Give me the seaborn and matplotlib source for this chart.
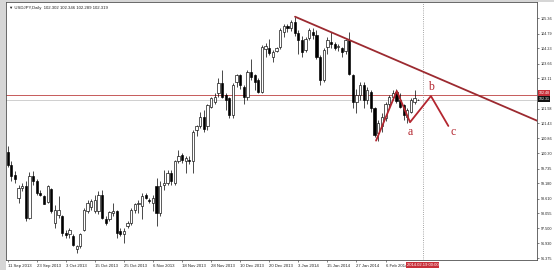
import numpy as np
import pandas as pd
import matplotlib
matplotlib.use("Agg")
import matplotlib.pyplot as plt
import matplotlib.transforms as mtransforms
from matplotlib.patches import Rectangle
import seaborn as sns

# ---------------- data ----------------
opens = [100.36, 99.88, 99.51, 98.64, 99.01, 99.09, 97.89, 99.44, 99.26, 98.82,
         98.72, 98.47, 98.97, 97.70, 98.01, 97.95, 97.33, 97.27, 97.20, 96.71,
         96.83, 97.45, 98.14, 98.30, 98.14, 98.14, 98.76, 97.85, 97.83, 98.08,
         98.14, 97.39, 97.27, 97.58, 97.70, 98.20, 98.39, 98.33, 98.76, 98.57,
         98.45, 99.07, 98.08, 99.13, 99.19, 99.57, 99.19, 100.01, 100.26, 100.01,
         100.07, 100.01, 101.18, 101.31, 101.68, 101.31, 102.05, 102.24, 102.55, 102.92,
         102.49, 102.36, 101.74, 102.98, 103.23, 102.80, 102.42, 103.35, 103.23, 103.04,
         102.61, 104.20, 104.23, 103.92, 104.14, 104.30, 104.85, 105.07, 104.98, 105.22,
         104.80, 104.54, 104.17, 104.62, 104.85, 104.72, 103.92, 103.04, 104.29, 104.48,
         104.39, 104.30, 104.23, 104.14, 104.54, 103.23, 102.24, 102.49, 102.86, 102.30,
         102.61, 101.99, 101.06, 101.31, 101.62, 102.17, 102.40, 102.60, 102.30, 102.11,
         101.68, 101.87, 102.24, 102.302]
highs = [100.59, 100.00, 99.63, 99.13, 99.19, 99.26, 99.59, 99.63, 99.34, 98.95,
         98.76, 99.13, 99.01, 98.38, 98.70, 98.00, 97.45, 97.51, 97.27, 96.89,
         97.33, 98.26, 98.57, 98.60, 98.76, 98.88, 98.95, 97.95, 98.14, 98.45,
         98.20, 97.51, 97.51, 97.77, 98.26, 98.45, 98.57, 98.82, 98.82, 98.64,
         98.76, 99.38, 99.26, 99.69, 99.69, 99.69, 100.07, 100.44, 100.32, 100.19,
         100.20, 101.18, 101.37, 101.87, 101.93, 102.17, 102.42, 102.55, 103.11, 103.42,
         102.55, 102.42, 102.92, 103.29, 103.29, 102.86, 103.42, 103.85, 103.29, 103.11,
         104.35, 104.42, 104.60, 104.17, 104.29, 104.98, 105.13, 105.16, 105.30, 105.41,
         104.91, 104.70, 104.66, 104.98, 104.98, 104.91, 104.00, 104.23, 104.66, 104.85,
         104.48, 104.40, 104.29, 104.60, 104.85, 103.29, 102.73, 102.98, 102.98, 102.80,
         102.67, 102.05, 101.55, 101.80, 102.24, 102.50, 102.67, 102.73, 102.55, 102.17,
         102.00, 102.36, 102.67, 102.346]
lows = [99.80, 99.26, 99.20, 98.45, 98.88, 97.76, 97.83, 99.13, 98.76, 98.70,
        98.39, 98.45, 98.08, 97.52, 97.89, 97.20, 97.14, 97.14, 96.83, 96.58,
        96.77, 97.39, 98.08, 98.20, 98.08, 98.02, 97.83, 97.64, 97.77, 97.95,
        97.14, 97.20, 96.95, 97.51, 97.64, 98.08, 98.08, 97.83, 98.60, 98.45,
        98.14, 97.58, 97.95, 98.95, 99.13, 99.13, 99.13, 99.94, 99.94, 99.57,
        99.90, 99.57, 100.94, 101.25, 101.12, 101.18, 101.99, 102.17, 102.42, 102.36,
        101.93, 101.62, 101.62, 102.80, 102.73, 102.17, 102.30, 103.04, 102.67, 102.55,
        102.55, 103.92, 103.98, 103.73, 104.10, 104.20, 104.66, 104.85, 104.90, 104.70,
        104.04, 103.92, 104.10, 104.56, 104.60, 103.85, 102.86, 102.98, 104.04, 104.26,
        104.17, 104.15, 103.92, 104.04, 103.23, 101.99, 101.80, 102.30, 101.99, 102.17,
        101.87, 100.93, 100.76, 101.12, 101.50, 101.99, 102.30, 102.20, 101.99, 101.55,
        101.45, 101.80, 102.17, 102.289]
closes = [99.88, 99.47, 99.35, 99.01, 99.10, 97.89, 99.44, 99.26, 98.82, 98.74,
          98.42, 99.07, 98.14, 98.20, 98.20, 97.33, 97.23, 97.45, 96.86, 96.83,
          97.30, 98.17, 98.45, 98.51, 98.55, 98.76, 97.89, 97.70, 98.10, 98.14,
          97.33, 97.27, 97.39, 97.70, 98.20, 98.39, 98.45, 98.70, 98.63, 98.51,
          98.64, 98.08, 99.07, 99.19, 99.57, 99.26, 100.01, 100.19, 100.07, 100.13,
          100.01, 101.12, 101.31, 101.68, 101.21, 102.11, 102.36, 102.42, 102.92, 102.42,
          102.30, 101.74, 102.86, 103.23, 102.86, 102.42, 103.35, 103.17, 102.98, 102.61,
          104.29, 104.32, 104.07, 104.10, 104.23, 104.92, 105.07, 104.98, 105.22, 104.80,
          104.54, 104.10, 104.60, 104.91, 104.72, 103.92, 103.04, 104.17, 104.54, 104.39,
          104.26, 104.31, 104.10, 104.54, 103.29, 102.24, 102.49, 102.86, 102.30, 102.67,
          101.99, 101.00, 101.43, 101.68, 102.17, 102.42, 102.58, 102.26, 102.05, 101.74,
          101.93, 102.30, 102.36, 102.319]

date_labels = ["11 Sep 2013", "23 Sep 2013", "3 Oct 2013", "15 Oct 2013", "25 Oct 2013",
               "6 Nov 2013", "18 Nov 2013", "28 Nov 2013", "10 Dec 2013", "20 Dec 2013",
               "3 Jan 2014", "15 Jan 2014", "27 Jan 2014", "6 Feb 2014"]
date_label_bars = [0, 8, 16, 24, 32, 40, 48, 56, 64, 72, 80, 88, 96, 104]

# the 102.54 level is hidden under the red price box in the reference
price_ticks = [105.36, 104.79, 104.23, 103.66, 103.11, 101.98, 101.43, 100.86,
               100.30, 99.735, 99.180, 98.610, 98.055, 97.500, 96.930, 96.375]
price_tick_labels = ["105.36", "104.79", "104.23", "103.66", "103.11", "101.98",
                     "101.43", "100.86", "100.30", "99.735", "99.180", "98.610", "98.055",
                     "97.500", "96.930", "96.375"]

# drawings on the chart
trend_bars = [79.1, 146.0]
trend_prices = [105.42, 101.51]
wave_bars = [101.4, 107.1, 110.75, 116.5, 121.3]
wave_prices = [100.78, 102.64, 101.47, 102.45, 101.33]
wave_letters = ["a", "b", "c"]
letter_bars = [110.75, 116.5, 122.7]
letter_prices = [101.09, 102.78, 101.09]
hline_price = 102.477
bid_price = 102.319
hline_label = "102.48"
bid_label = "102.31"
cursor_bar = 114.2
title_text = "USDJPY,Daily  102.302 102.346 102.289 102.319"
cursor_date = "2014.02.19 00:00"

# ---------------- styling ----------------
sns.set_theme(style="white")
plt.rcParams["font.family"] = ["Liberation Sans", "DejaVu Sans"]

W, H = 554, 270
fig = plt.figure(figsize=(W / 100, H / 100), dpi=100)
fig.patch.set_facecolor("white")
# grey window frame on the left and top
fig.patches.append(Rectangle((0, 0), 5.5 / W, 1, transform=fig.transFigure,
                             facecolor="#d6d6d6", edgecolor="none", zorder=0))
fig.patches.append(Rectangle((0, 1 - 1.5 / H), 1, 1.5 / H, transform=fig.transFigure,
                             facecolor="#d6d6d6", edgecolor="none", zorder=0))

ax_h = 260 - 1.5
ax = fig.add_axes([6 / W, 10 / H, (537 - 6) / W, ax_h / H])
ax.set_facecolor("white")

df = pd.DataFrame({"o": opens, "h": highs, "l": lows, "c": closes})
df["x"] = np.arange(len(df))
up = df["c"] >= df["o"]
body_lo = np.minimum(df["o"], df["c"])
body_h = np.maximum(np.abs(df["c"] - df["o"]), 0.015)

ax.vlines(df["x"], df["l"], df["h"], color="black", lw=0.5, zorder=3)
ax.bar(df["x"], body_h, bottom=body_lo, width=0.62,
       color=np.where(up, "white", "black"), edgecolor="black", linewidth=0.45, zorder=4)

# horizontal lines
ax.axhline(bid_price, color="#c8c8c8", lw=0.6, zorder=2)
ax.axhline(hline_price, color="#c65a5a", lw=0.7, zorder=2)
# cursor vertical dotted line
ax.axvline(cursor_bar, color="#8a8a8a", lw=0.6, ls=(0, (1, 1.6)), zorder=2)

# trendline and wave drawing
trend_df = pd.DataFrame({"x": trend_bars, "y": trend_prices})
sns.lineplot(data=trend_df, x="x", y="y", ax=ax, color="#9c2a30", lw=1.3,
             sort=False, zorder=5, legend=False)
wave_df = pd.DataFrame({"x": wave_bars, "y": wave_prices})
sns.lineplot(data=wave_df, x="x", y="y", ax=ax, color="#b3262f", lw=1.3,
             sort=False, zorder=5, legend=False)
for lt, lx, ly in zip(wave_letters, letter_bars, letter_prices):
    ax.text(lx, ly, lt, color="#b3262f", fontsize=8.5, ha="center", va="center",
            family=["Liberation Serif", "DejaVu Serif"], zorder=6)

# axes limits
ax.set_xlim(-0.46, 145.7)
ax.set_ylim(96.311, 105.989)

# y axis on the right
ax.yaxis.tick_right()
ax.set_yticks(price_ticks)
ax.set_yticklabels(price_tick_labels)
ax.tick_params(axis="y", which="both", right=True, left=False, length=1.5, width=0.4,
               pad=1.0, labelsize=2.7, colors="#222222")
# x axis
ax.set_xticks(date_label_bars)
ax.set_xticklabels(date_labels, ha="left")
ax.tick_params(axis="x", which="both", bottom=True, length=1.5, width=0.4,
               pad=1.2, labelsize=3.1, colors="#222222")
ax.set_xlabel("")
ax.set_ylabel("")
for s in ax.spines.values():
    s.set_color("#505050")
    s.set_linewidth(0.6)

# title text top-left
ax.text(3.0 / (537 - 6), 1 - 6 / ax_h, "\u25bc " + title_text, transform=ax.transAxes,
        fontsize=3.1, ha="left", va="center", color="#222222",
        family=["Liberation Sans", "DejaVu Sans"], zorder=7)

# price boxes on the right axis
tr = mtransforms.blended_transform_factory(ax.transAxes, ax.transData)
ax.text(1.0 + 1.5 / 531, 102.56, hline_label, transform=tr, fontsize=2.6, color="white",
        ha="left", va="center", clip_on=False, zorder=8,
        bbox=dict(boxstyle="square,pad=0.25", fc="#c8303a", ec="none"))
ax.text(1.0 + 1.5 / 531, 102.33, bid_label, transform=tr, fontsize=2.6, color="white",
        ha="left", va="center", clip_on=False, zorder=8,
        bbox=dict(boxstyle="square,pad=0.25", fc="#111111", ec="none"))

# cursor date box on the time axis
trx = mtransforms.blended_transform_factory(ax.transData, ax.transAxes)
ax.text(cursor_bar, -4.8 / ax_h, cursor_date, transform=trx, fontsize=3.0, color="white",
        ha="center", va="center", clip_on=False, zorder=8,
        bbox=dict(boxstyle="square,pad=0.25", fc="#c8303a", ec="none"))

fig.savefig("out.png", dpi=100)
